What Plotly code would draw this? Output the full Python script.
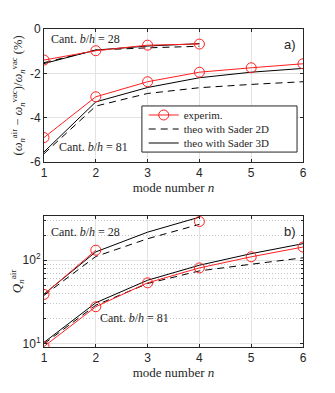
import plotly.graph_objects as go

n28 = [1, 2, 3, 4]
n81 = [1, 2, 3, 4, 5, 6]

# frequency shift (%) - cantilever b/h = 28
df_exp_28 = [-1.40, -0.98, -0.73, -0.68]
df_2d_28 = [-1.52, -0.95, -0.85, -0.78]
df_3d_28 = [-1.56, -0.95, -0.77, -0.66]
# frequency shift (%) - cantilever b/h = 81
df_exp_81 = [-4.90, -3.06, -2.38, -1.95, -1.75, -1.57]
df_2d_81 = [-5.63, -3.48, -2.91, -2.65, -2.50, -2.38]
df_3d_81 = [-5.55, -3.29, -2.64, -2.20, -1.95, -1.78]

# quality factor in air
q_exp_28 = [39, 132, None, 291]
q_2d_28 = [38, 111, 181, 269]
q_3d_28 = [39.4, 126, 217, 328]
q_exp_81 = [9.3, 27.8, 53.7, 81, 110, 144]
q_2d_81 = [10.0, 29, 52.7, 74.6, 89.6, 107]
q_3d_81 = [10.4, 31, 57.7, 87.2, 120, 158]

serif = "Liberation Serif, DejaVu Serif, serif"
sans = "Liberation Sans, Arial, sans-serif"
red = "#ff1f1f"
ink = "#262626"

fig = go.Figure()


def add_set(x, exp, d2, d3, xa, ya, first):
    fig.add_trace(go.Scatter(x=x, y=d2, mode="lines", name="theo with Sader 2D",
                             line=dict(color="black", width=1, dash="7px,5px"),
                             xaxis=xa, yaxis=ya, legend="legend2", showlegend=first))
    fig.add_trace(go.Scatter(x=x, y=d3, mode="lines", name="theo with Sader 3D",
                             line=dict(color="black", width=1),
                             xaxis=xa, yaxis=ya, legend="legend3", showlegend=first))
    fig.add_trace(go.Scatter(x=x, y=exp, mode="lines+markers", name="experim.",
                             line=dict(color=red, width=1), connectgaps=False,
                             marker=dict(symbol="circle-open", size=10, color=red,
                                         line=dict(width=1, color=red)),
                             xaxis=xa, yaxis=ya, legend="legend", showlegend=first))


add_set(n28, df_exp_28, df_2d_28, df_3d_28, "x", "y", True)
add_set(n81, df_exp_81, df_2d_81, df_3d_81, "x", "y", False)
add_set(n28, q_exp_28, q_2d_28, q_3d_28, "x2", "y2", False)
add_set(n81, q_exp_81, q_2d_81, q_3d_81, "x2", "y2", False)

axis_common = dict(showline=True, linecolor=ink, linewidth=1, mirror="allticks",
                   ticks="inside", ticklen=3, tickcolor=ink, automargin=False,
                   gridcolor="#e3e3e3", gridwidth=1, zeroline=False,
                   tickfont=dict(family=sans, size=12, color=ink))

xt = dict(tickvals=n81, range=[1, 6],
          title=dict(text="mode number <i>n</i>", font=dict(family=serif, size=13, color=ink),
                     standoff=2))

leg = dict(x=0.385, xanchor="left", yanchor="middle", bgcolor="rgba(0,0,0,0)",
           borderwidth=0, font=dict(family=serif, size=11, color=ink))

fig.update_layout(
    width=327, height=385,
    margin=dict(l=36, r=32, t=21, b=46),
    plot_bgcolor="white", paper_bgcolor="white",
    xaxis=dict(domain=[0, 1], anchor="y", **xt, **axis_common),
    yaxis=dict(domain=[0.582, 1], anchor="x", range=[-6, 0],
               tickvals=[0, -2, -4, -6], ticktext=["0", "-2", "-4", "-6"],
               title=dict(text="(<i>ω</i><sub><i>n</i></sub><sup>air</sup> − <i>ω</i><sub><i>n</i></sub><sup>vac</sup>)/<i>ω</i><sub><i>n</i></sub><sup>vac</sup> (%)",
                          font=dict(family=serif, size=12.5, color=ink), standoff=4),
               **axis_common),
    xaxis2=dict(domain=[0, 1], anchor="y2", **xt, **axis_common),
    yaxis2=dict(domain=[0, 0.412], anchor="x2", type="log", range=[0.962, 2.53],
                tickvals=[10, 100], ticktext=["10<sup>1</sup>", "10<sup>2</sup>"],
                minor=dict(tickvals=[20, 30, 40, 50, 60, 70, 80, 90, 200, 300],
                           showgrid=True, griddash="1px,2px", gridcolor="#c4c4c4",
                           ticks="inside", ticklen=2, tickcolor=ink),
                title=dict(text="<i>Q</i><sub><i>n</i></sub><sup>air</sup>",
                           font=dict(family=serif, size=13, color=ink), standoff=2),
                **axis_common),
    legend=dict(y=0.7296, **leg),
    legend2=dict(y=0.6855, **leg),
    legend3=dict(y=0.6415, **leg),
    showlegend=True,
)

# common legend frame
fig.add_shape(type="rect", xref="paper", yref="paper", x0=0.378, x1=0.977, y0=0.613, y1=0.758,
              fillcolor="white", line=dict(color=ink, width=1), layer="above")

ann = dict(showarrow=False, font=dict(family=serif, size=12, color=ink))
fig.add_annotation(x=1.1, y=-0.45, xref="x", yref="y", xanchor="left",
                   text="Cant. <i>b</i>/<i>h</i> = 28", **ann)
fig.add_annotation(x=1.25, y=-5.32, xref="x", yref="y", xanchor="left",
                   text="Cant. <i>b</i>/<i>h</i> = 81", **ann)
fig.add_annotation(x=1.1, y=2.333, xref="x2", yref="y2", xanchor="left",
                   text="Cant. <i>b</i>/<i>h</i> = 28", **ann)
fig.add_annotation(x=2.05, y=1.31, xref="x2", yref="y2", xanchor="left",
                   text="Cant. <i>b</i>/<i>h</i> = 81", **ann)
fig.add_annotation(x=5.9, y=-0.72, xref="x", yref="y", xanchor="right", showarrow=False,
                   text="a)", font=dict(family=sans, size=13, color=ink))
fig.add_annotation(x=5.9, y=2.345, xref="x2", yref="y2", xanchor="right", showarrow=False,
                   text="b)", font=dict(family=sans, size=13, color=ink))

fig.write_html("out.html")
